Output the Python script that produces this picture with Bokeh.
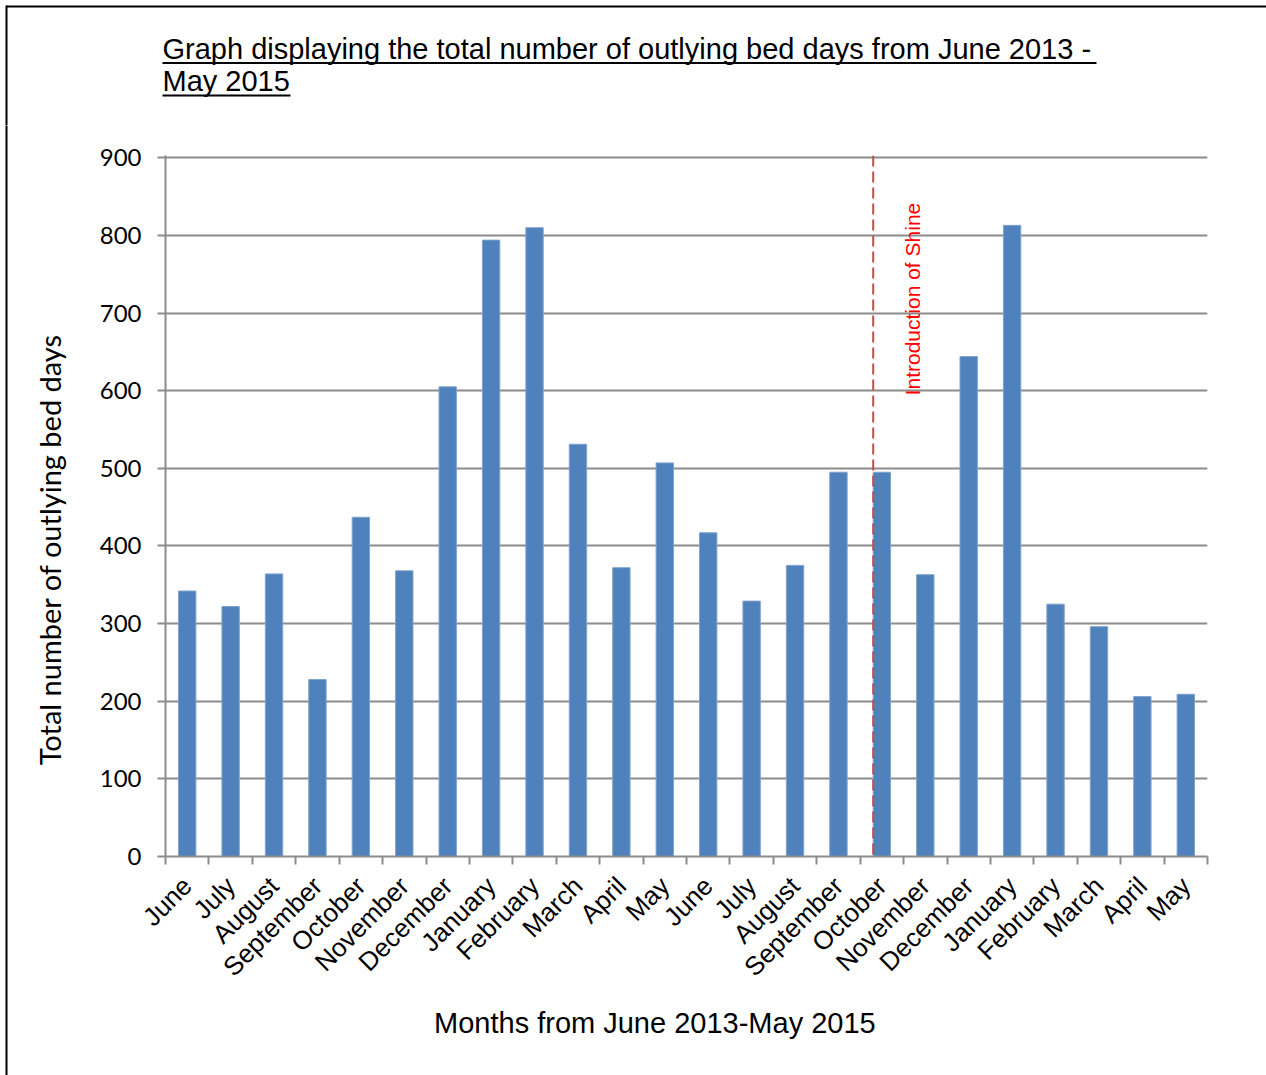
from math import pi
from bokeh.plotting import figure
from bokeh.layouts import column, row
from bokeh.models import Range1d, FixedTicker, Span, Label
from bokeh.embed import file_html
from bokeh.resources import INLINE

months = ["June", "July", "August", "September", "October", "November", "December",
          "January", "February", "March", "April", "May",
          "June", "July", "August", "September", "October", "November", "December",
          "January", "February", "March", "April", "May"]
bed_days = [342, 322, 364, 228, 437, 368, 605, 794, 810, 531, 372, 507,
            417, 329, 375, 495, 495, 363, 644, 813, 325, 296, 206, 209]
y_ticks = [0, 100, 200, 300, 400, 500, 600, 700, 800, 900]
shine_index = 16  # October 2014
shine_text = "Introduction of Shine"
title_lines = ["Graph displaying the  total number of outlying bed days from June 2013 -",
               "May 2015"]
x_label = "Months from June 2013-May 2015"
y_label = "Total number of outlying bed days"

W, H = 1266, 1075
HEADER_H = 125
STRIP_W = 80
FOOTER_H = 70
MAIN_W = W - STRIP_W
MAIN_H = H - HEADER_H - FOOTER_H
FRAME_TOP = 155      # canvas y of the top of the plotting frame
FRAME_BOTTOM = 856   # canvas y of the x axis


def blank(width, height):
    f = figure(width=width, height=height, output_backend="svg", toolbar_location=None,
               x_axis_type=None, y_axis_type=None, min_border=0,
               x_range=Range1d(0, width), y_range=Range1d(height, 0),
               outline_line_color=None, background_fill_color="white",
               border_fill_color="white")
    f.grid.visible = False
    return f


# ---- header: title with underline + top/left border
header = blank(W, HEADER_H)
header.segment(x0=[6, 6], y0=[6, 5], x1=[W + 5, 6], y1=[6, HEADER_H + 5],
               line_color="black", line_width=2)
for txt, yb in zip(title_lines, [48, 80]):
    header.add_layout(Label(x=162, y=yb, text=txt, text_font="Liberation Sans",
                            text_font_size="29px", text_color="black",
                            text_baseline="alphabetic", text_align="left"))
header.segment(x0=[162, 162], y0=[62.5, 95], x1=[1096, 290], y1=[62.5, 95],
               line_color="black", line_width=2)

# ---- left strip: border + y axis title
strip = blank(STRIP_W, H - HEADER_H)
strip.segment(x0=[6], y0=[-5], x1=[6], y1=[H - HEADER_H + 5], line_color="black", line_width=2)
strip.add_layout(Label(x=49, y=549 - HEADER_H, text=y_label, angle=pi / 2,
                       text_font="Lato", text_font_size="29px", text_color="black",
                       text_align="center", text_baseline="alphabetic"))

# ---- footer: x axis title
footer = blank(MAIN_W, FOOTER_H)
footer.add_layout(Label(x=637 - STRIP_W, y=1022 - HEADER_H - MAIN_H, text=x_label,
                        text_font="Liberation Sans", text_font_size="29px",
                        text_color="black", text_align="center", text_baseline="alphabetic"))

# ---- main chart
centers = [i + 0.5 for i in range(len(months))]
p = figure(width=MAIN_W, height=MAIN_H, output_backend="svg", toolbar_location=None,
           x_range=Range1d(0, len(months)), y_range=Range1d(0, 903),
           min_border_left=165 - STRIP_W, min_border_right=59,
           min_border_top=FRAME_TOP - HEADER_H,
           min_border_bottom=MAIN_H - (FRAME_BOTTOM - HEADER_H),
           background_fill_color="white", border_fill_color="white",
           outline_line_color=None)

p.vbar(x=centers, top=bed_days, width=0.4, fill_color="#4F81BD",
       line_color="#7FA3CF", line_width=1)

grid_col = "#8C8C8C"
p.yaxis.ticker = FixedTicker(ticks=y_ticks)
p.yaxis.axis_line_color = grid_col
p.yaxis.axis_line_width = 2
p.yaxis.major_tick_line_color = grid_col
p.yaxis.major_tick_line_width = 2
p.yaxis.major_tick_out = 8
p.yaxis.major_tick_in = 0
p.yaxis.minor_tick_line_color = None
p.yaxis.major_label_text_font = "Lato"
p.yaxis.major_label_text_font_size = "24px"
p.yaxis.major_label_text_color = "black"
p.yaxis.major_label_standoff = 16

p.xaxis.ticker = FixedTicker(ticks=centers, minor_ticks=list(range(len(months) + 1)))
p.xaxis.major_label_overrides = {c: m for c, m in zip(centers, months)}
p.xaxis.major_label_orientation = pi / 4
p.xaxis.major_tick_line_color = None
p.xaxis.major_tick_out = 0
p.xaxis.major_tick_in = 0
p.xaxis.minor_tick_line_color = grid_col
p.xaxis.minor_tick_line_width = 2
p.xaxis.minor_tick_out = 8
p.xaxis.minor_tick_in = 0
p.xaxis.axis_line_color = grid_col
p.xaxis.axis_line_width = 2
p.xaxis.major_label_text_font = "Liberation Sans"
p.xaxis.major_label_text_font_size = "26px"
p.xaxis.major_label_text_color = "black"
p.xaxis.major_label_standoff = 17

p.xgrid.grid_line_color = None
p.ygrid.ticker = FixedTicker(ticks=y_ticks)
p.ygrid.grid_line_color = grid_col
p.ygrid.grid_line_width = 2

p.add_layout(Span(location=shine_index + 0.5 - 0.2, dimension="height",
                  line_color="#C0504D", line_width=2, line_dash="11 5"))
p.add_layout(Label(x=shine_index + 1.2, y=594, text=shine_text, angle=pi / 2,
                   text_font="Liberation Sans", text_font_size="21px",
                   text_color="#FF0000", text_align="left", text_baseline="middle"))

layout = column(header, row(strip, column(p, footer, spacing=0), spacing=0), spacing=0)
open("out.html", "w").write(file_html(layout, INLINE))
